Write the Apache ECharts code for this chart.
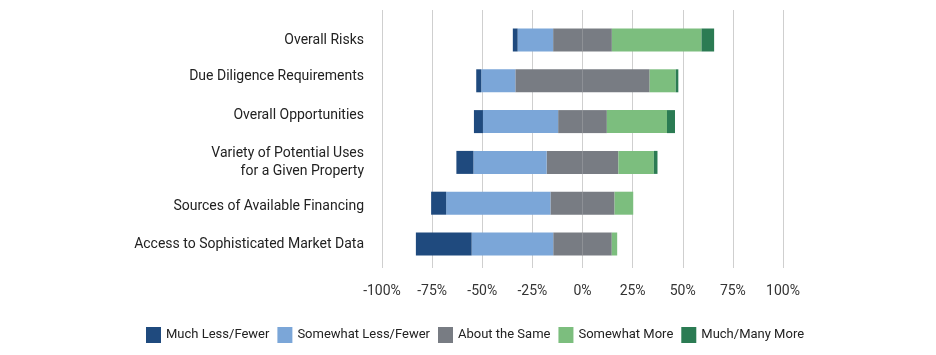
<!DOCTYPE html>
<html>
<head>
<meta charset="utf-8">
<script src="https://cdn.jsdelivr.net/npm/echarts@6/dist/echarts.min.js"></script>
<style>
html,body{margin:0;padding:0;background:#fff;}
#chart{width:936px;height:355px;}
</style>
</head>
<body>
<div id="chart"></div>
<script>
var categories = [
  'Overall Risks',
  'Due Diligence Requirements',
  'Overall Opportunities',
  'Variety of Potential Uses\nfor a Given Property',
  'Sources of Available Financing',
  'Access to Sophisticated Market Data'
];
var muchLess     = [2.4, 2.5, 4.5, 8.5, 7.5, 27.8];
var somewhatLess = [17.7, 17.0, 37.5, 36.5, 52.0, 40.7];
var aboutSame    = [29.3, 67.0, 24.3, 35.8, 32.0, 29.2];
var somewhatMore = [44.7, 13.0, 30.0, 17.7, 9.3, 2.7];
var muchMore     = [6.3, 1.3, 4.0, 1.8, 0, 0];
var tickValues   = [-100, -75, -50, -25, 0, 25, 50, 75, 100];

var names = ['Much Less/Fewer','Somewhat Less/Fewer','About the Same','Somewhat More','Much/Many More'];
var colors = ['#1F4A7E','#7BA6D8','#787C83','#7CBE7E','#2B7B53'];

// label paddings to mimic the slight vertical offsets of the original labels
var labelPads = [[0,0,0,0],[0,0,8,0],[0,0,12,0],[0,0,0,0],[6,0,0,0],[0,0,0,0]];

function neg(a){ return a.map(function(v){ return -v; }); }
function half(a, sign){ return a.map(function(v){ return sign * v / 2; }); }

var fontFam = 'Roboto, "Liberation Sans", sans-serif';

function bar(name, data, color){
  return {
    name: name, type: 'bar', stack: 'total',
    xAxisIndex: 1, yAxisIndex: 1,
    barWidth: 23, data: data,
    itemStyle: {color: color},
    emphasis: {disabled: true}
  };
}

var rich = {};
labelPads.forEach(function(p, i){
  rich['p' + i] = {padding: p, fontSize: 14, color: '#222', fontFamily: fontFam, lineHeight: 18};
});

var chart = echarts.init(document.getElementById('chart'));
chart.setOption({
  animation: false,
  textStyle: {fontFamily: fontFam},
  color: colors,
  legend: {
    data: names,
    left: 146, top: 327, padding: 0,
    icon: 'rect', itemWidth: 15, itemHeight: 16, itemGap: 8,
    textStyle: {fontSize: 13, color: '#222', fontFamily: fontFam},
    selectedMode: false
  },
  grid: [
    {left: 382, width: 401, top: 10, height: 258},
    {left: 382, width: 401, top: 19.6, height: 244.8}
  ],
  xAxis: [
    {
      gridIndex: 0, type: 'value', min: tickValues[0], max: tickValues[tickValues.length-1], interval: 25,
      axisLine: {show: false}, axisTick: {show: false},
      splitLine: {show: true, lineStyle: {color: '#cfcfcf', width: 1}},
      axisLabel: {formatter: '{value}%', fontSize: 14, color: '#333', margin: 16, fontFamily: fontFam}
    },
    {
      gridIndex: 1, type: 'value', min: -100, max: 100, show: false
    }
  ],
  yAxis: [
    {gridIndex: 0, type: 'value', show: false},
    {
      gridIndex: 1, type: 'category', data: categories, inverse: true,
      axisLine: {show: false}, axisTick: {show: false}, splitLine: {show: false},
      axisLabel: {
        fontSize: 14, color: '#222', margin: 18, lineHeight: 18, fontFamily: fontFam,
        formatter: function(value, index){
          var i = categories.indexOf(value);
          return value.split('\n').map(function(line){ return '{p' + i + '|' + line + '}'; }).join('\n');
        },
        rich: rich
      }
    }
  ],
  series: [
    bar(names[2], half(aboutSame, -1), colors[2]),
    bar(names[1], neg(somewhatLess), colors[1]),
    bar(names[0], neg(muchLess), colors[0]),
    bar(names[2], half(aboutSame, 1), colors[2]),
    bar(names[3], somewhatMore, colors[3]),
    bar(names[4], muchMore, colors[4])
  ]
});
</script>
</body>
</html>
